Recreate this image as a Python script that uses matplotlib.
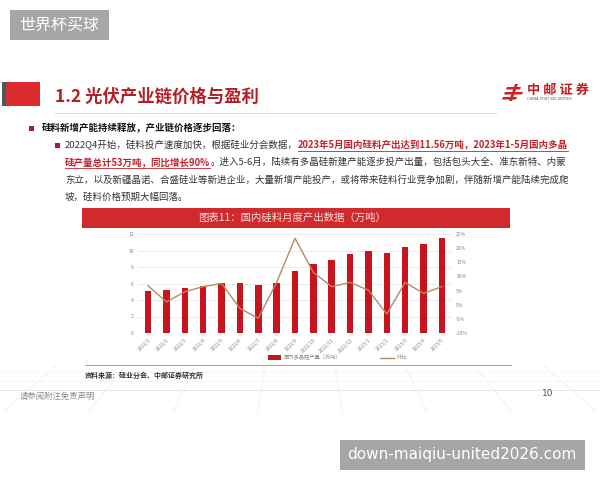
import numpy as np
import matplotlib
matplotlib.use('Agg')
import matplotlib.pyplot as plt
from matplotlib.patches import Rectangle, Polygon
from matplotlib.lines import Line2D

plt.rcParams['font.family'] = ['Noto Sans CJK SC', 'DejaVu Sans']

# data #########################################################################
months = ['2022/1', '2022/2', '2022/3', '2022/4', '2022/5', '2022/6', '2022/7',
          '2022/8', '2022/9', '2022/10', '2022/11', '2022/12', '2023/1',
          '2023/2', '2023/3', '2023/4', '2023/5']
output_wt = [5.1, 5.2, 5.4, 5.7, 6.1, 6.05, 5.8, 6.1, 7.55, 8.35, 8.9, 9.6,
             10.0, 9.65, 10.4, 10.8, 11.56]
mom_pct = [6.7, 1.0, 4.6, 6.4, 7.5, -1.3, -4.8, 7.9, 23.5, 11.4, 6.4, 7.9,
           5.1, -3.3, 7.9, 4.0, 6.4]
left_ticks = [0, 2, 4, 6, 8, 10, 12]
right_ticks = [-10, -5, 0, 5, 10, 15, 20, 25]
###############################################################################

W, H = 600, 480
fig = plt.figure(figsize=(6, 4.8), dpi=100)
fig.patch.set_facecolor('white')
renderer = fig.canvas.get_renderer()


def P(x, y):
    return x / W, 1 - y / H


def rect(x0, y0, x1, y1, color, **kw):
    fig.patches.append(Rectangle(P(x0, y1), (x1 - x0) / W, (y1 - y0) / H,
                                 transform=fig.transFigure, facecolor=color,
                                 edgecolor='none', **kw))


def hline(x0, x1, y, color, lw=0.8):
    fig.lines.append(Line2D([x0 / W, x1 / W], [1 - y / H, 1 - y / H],
                            transform=fig.transFigure, color=color, lw=lw))


def text_line(x, y, parts, size):
    for txt, color, weight, under in parts:
        t = fig.text(*P(x, y), txt, fontsize=size, color=color,
                     fontweight=weight, va='center', ha='left')
        bb = t.get_window_extent(renderer)
        if under:
            hline(x, bb.x1, y + 6, color, lw=0.6)
        x = bb.x1


# faint perspective floor behind the footer
vx, vy = 300, 150
for k in np.linspace(-1200, 1800, 30):
    t0 = (365 - vy) / (470 - vy)
    fig.lines.append(Line2D([(vx + (k - vx) * t0) / W, k / W],
                            [1 - 365 / H, 1 - 470 / H],
                            transform=fig.transFigure, color='#efefef',
                            lw=0.6, zorder=0))
rect(0, 412, 600, 480, 'white', zorder=0.5)
for yy in [372, 381]:
    hline(0, 600, yy, '#f3f3f3', 0.5)
hline(0, 600, 390, '#e6e6e6', 0.7)

# watermarks
rect(10, 10, 109, 40, '#a6a6a6')
fig.text(*P(59.5, 25), '世界杯买球', fontsize=11.5, color='white',
         ha='center', va='center')
rect(340, 440, 585, 470, '#a6a6a6')
fig.text(*P(462, 455), 'down-maiqiu-united2026.com', fontsize=11,
         color='white', ha='center', va='center', family='DejaVu Sans')

# header
rect(2, 82, 6, 106, '#4a5866')
rect(6, 82, 40, 106, '#d92a2e')
fig.text(*P(55, 97), '1.2 光伏产业链价格与盈利', fontsize=12.5, color='#b41f27',
         fontweight='bold', ha='left', va='center')
hline(55, 496, 113, '#dddddd', 0.8)

# logo
lx, ly = 503, 84
for i, w in enumerate([14, 18, 14]):
    fig.patches.append(Polygon([P(lx + 4 - i * 2, ly + 3 + i * 5),
                                P(lx + 4 - i * 2 + w, ly + 3 + i * 5),
                                P(lx + 3 - i * 2 + w, ly + 5.5 + i * 5),
                                P(lx + 3 - i * 2, ly + 5.5 + i * 5)],
                               closed=True, transform=fig.transFigure,
                               facecolor='#d0202a', edgecolor='none'))
fig.patches.append(Polygon([P(lx + 12, ly), P(lx + 15, ly),
                            P(lx + 9, ly + 17), P(lx + 6, ly + 17)],
                           closed=True, transform=fig.transFigure,
                           facecolor='#d0202a', edgecolor='none'))
fig.text(*P(527, 90), '中 邮 证 券', fontsize=9.5, color='#c01e26',
         fontweight='bold', ha='left', va='center')
fig.text(*P(527, 99.5), 'CHINA POST SECURITIES', fontsize=2.6, color='#555555',
         ha='left', va='center', family='DejaVu Sans')

# bullets and paragraph
red = '#c0232b'
dark = '#333333'
rect(29, 126, 34, 131, '#a3202a')
text_line(42, 128, [('硅料新增产能持续释放，产业链价格逐步回落：', '#111111', 'bold', False)], 6.8)
rect(55, 143, 60, 148, '#a3202a')
fs = 6.8
text_line(65, 145, [('2022Q4开始，硅料投产速度加快，根据硅业分会数据，', dark, 'normal', False),
                    ('2023年5月国内硅料产出达到11.56万吨，2023年1-5月国内多晶', red, 'bold', True)], fs)
text_line(65, 162, [('硅产量总计53万吨，同比增长90%', red, 'bold', True),
                    ('。进入5-6月，陆续有多晶硅新建产能逐步投产出量，包括包头大全、准东新特、内蒙', dark, 'normal', False)], fs)
text_line(65, 180, [('东立，以及新疆晶诺、合盛硅业等新进企业，大量新增产能投产，或将带来硅料行业竞争加剧，伴随新增产能陆续完成爬', dark, 'normal', False)], fs)
text_line(65, 197, [('坡，硅料价格预期大幅回落。', dark, 'normal', False)], fs)

# chart title bar
rect(82, 208, 510, 228, '#d02a2d')
fig.text(*P(292, 218), '图表11：国内硅料月度产出数据（万吨）', fontsize=7.5,
         color='#f6dcdc', ha='center', va='center')

# chart
x = np.arange(len(months))
ax = fig.add_axes([138 / W, 1 - 333 / H, (452 - 138) / W, (333 - 234) / H])
ax.bar(x, output_wt, width=0.36, color='#c8141e', zorder=3)
ax.set_xlim(-0.55, len(months) - 0.45)
ax.set_ylim(0, 12)
ax.set_yticks(left_ticks)
ax.set_yticklabels([str(v) for v in left_ticks])
ax.grid(axis='y', color='#e8e8e8', lw=0.6, zorder=0)
ax.set_xticks(x)
ax.set_xticklabels(months, rotation=45, ha='right', rotation_mode='anchor')
ax.tick_params(axis='both', length=0, labelsize=3.6, colors='#888888', pad=3)
for s in ax.spines.values():
    s.set_visible(False)
ax.patch.set_alpha(0)

ax2 = ax.twinx()
ax2.plot(x, mom_pct, color='#b88a5e', lw=1.0, zorder=4)
ax2.set_ylim(-10, 25)
ax2.set_yticks(right_ticks)
ax2.set_yticklabels(['%d%%' % v for v in right_ticks])
ax2.tick_params(axis='y', length=0, labelsize=3.6, colors='#888888', pad=3)
for s in ax2.spines.values():
    s.set_visible(False)

# legend
rect(268, 355, 281, 360, '#c8141e')
fig.text(*P(284, 357.5), '国内多晶硅产量（万吨）', fontsize=3.8, color='#888888',
         ha='left', va='center')
hline(380, 394, 357.5, '#b88a5e', 1.0)
fig.text(*P(397, 357.5), '环比', fontsize=3.8, color='#888888',
         ha='left', va='center')

# source + footer
hline(85, 511, 365, '#cf9a92', 0.8)
fig.text(*P(85, 375), '资料来源：硅业分会、中邮证券研究所', fontsize=5, color='#333333',
         fontweight='bold', ha='left', va='center')
fig.text(*P(20, 396), '请参阅附注免责声明', fontsize=6, color='#8a8a8a',
         ha='left', va='center')
fig.text(*P(548, 394), '10', fontsize=6.5, color='#555555',
         ha='center', va='center', family='DejaVu Sans')

fig.savefig('out.png', dpi=100, facecolor='white')
